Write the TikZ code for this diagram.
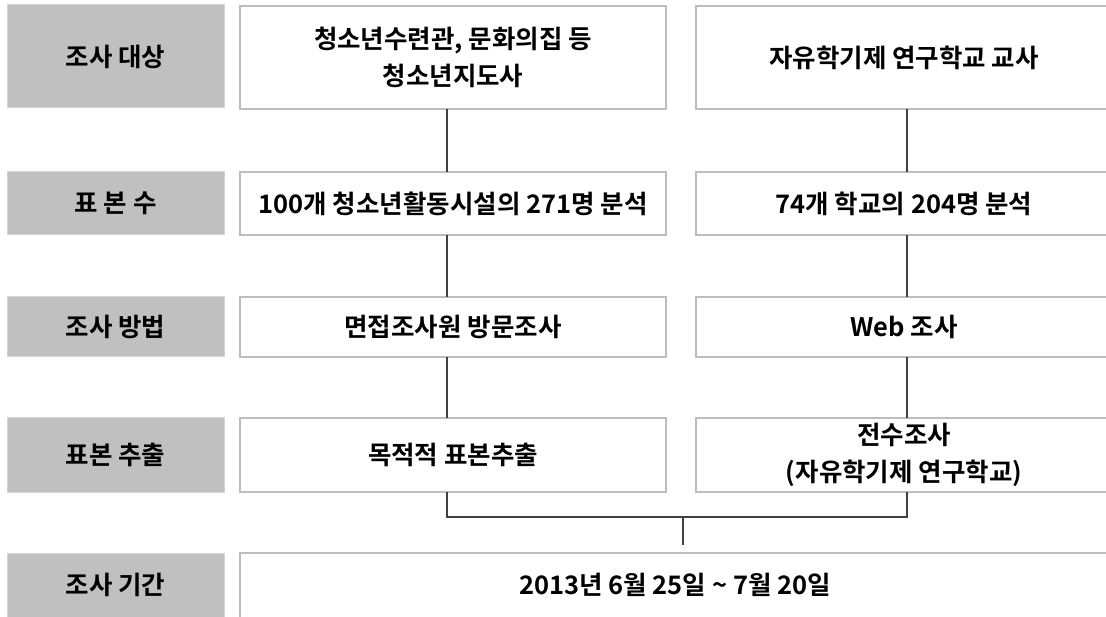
\documentclass[tikz,border=0pt]{standalone}
\usepackage{fontspec}
\setmainfont{Noto Sans CJK KR}[BoldFont={Noto Sans CJK KR Bold}]
\definecolor{grayfill}{HTML}{C0C0C0}
\definecolor{grayedge}{HTML}{D4D4D4}
\definecolor{boxedge}{HTML}{BDBDBD}
\definecolor{linecol}{HTML}{404040}
\begin{document}
\begin{tikzpicture}[x=1pt,y=-1pt,
  every node/.style={inner sep=0pt,outer sep=0pt,font=\fontsize{25.5}{37}\selectfont\bfseries,align=center},
  label box/.style={rectangle,fill=grayfill,draw=grayedge,line width=1pt,minimum width=217pt},
  white box/.style={rectangle,fill=white,draw=boxedge,line width=1.3pt},
  conn/.style={draw=linecol,line width=1.2pt}]
\useasboundingbox (0,0) rectangle (1106,617);
\fill[white] (0,0) rectangle (1106,617);
% label column
\node[label box,minimum height=103pt] (g1) at (115.5,56.5) {조사 대상};
\node[label box,minimum height=63pt] (g2) at (115.5,203) {표 본 수};
\node[label box,minimum height=60pt] (g3) at (115.5,326.5) {조사 방법};
\node[label box,minimum height=75pt] (g4) at (115.5,455) {표본 추출};
\node[label box,minimum height=72pt] (g5) at (115.5,589) {};
\node at (115.5,585) {조사 기간};
% left column
\node[white box,minimum width=426pt,minimum height=103pt] (l1) at (453,57.5) {청소년수련관, 문화의집 등\\청소년지도사};
\node[white box,minimum width=426pt,minimum height=63pt] (l2) at (453,203.5) {100개 청소년활동시설의 271명 분석};
\node[white box,minimum width=426pt,minimum height=60pt] (l3) at (453,327) {면접조사원 방문조사};
\node[white box,minimum width=426pt,minimum height=74pt] (l4) at (453,455) {목적적 표본추출};
% right column
\node[white box,minimum width=416pt,minimum height=103pt] (r1) at (904,57.5) {자유학기제 연구학교 교사};
\node[white box,minimum width=416pt,minimum height=63pt] (r2) at (904,203.5) {74개 학교의 204명 분석};
\node[white box,minimum width=416pt,minimum height=60pt] (r3) at (904,327) {Web 조사};
\node[white box,minimum width=416pt,minimum height=74pt] (r4) at (904,455) {전수조사\\(자유학기제 연구학교)};
% period
\node[white box,minimum width=876pt,minimum height=72pt] (p) at (678,589) {};
\node at (675,585) {2013년 6월 25일 \textasciitilde{} 7월 20일};
% connectors
\coordinate (cl) at (447,0);
\coordinate (cr) at (907,0);
\coordinate (cm) at (683,0);
\coordinate (jy) at (0,517);
\coordinate (sy) at (0,545);
\draw[conn] (l1.south -| cl) -- (l2.north -| cl);
\draw[conn] (l2.south -| cl) -- (l3.north -| cl);
\draw[conn] (l3.south -| cl) -- (l4.north -| cl);
\draw[conn] (r1.south -| cr) -- (r2.north -| cr);
\draw[conn] (r2.south -| cr) -- (r3.north -| cr);
\draw[conn] (r3.south -| cr) -- (r4.north -| cr);
\draw[conn] (l4.south -| cl) -- (cl |- jy) -- (cr |- jy) -- (r4.south -| cr);
\draw[conn] (cm |- jy) -- (cm |- sy);
\end{tikzpicture}
\end{document}
